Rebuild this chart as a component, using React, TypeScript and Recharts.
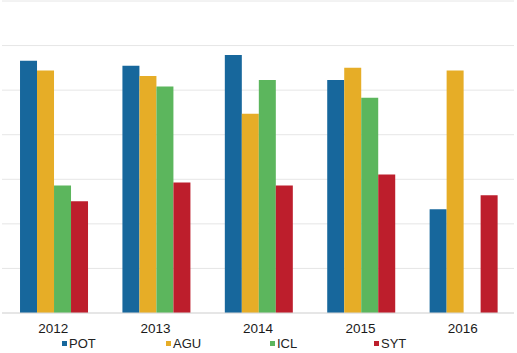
import { BarChart, Bar, XAxis, YAxis, CartesianGrid, Legend } from "recharts";

const years = ["2012", "2013", "2014", "2015", "2016"];
const pot = [5.66, 5.55, 5.79, 5.23, 2.33];
const agu = [5.44, 5.32, 4.47, 5.5, 5.44];
const icl = [2.86, 5.08, 5.23, 4.83, null];
const syt = [2.51, 2.93, 2.86, 3.11, 2.64];

const series = [
  { key: "POT", color: "#17679c" },
  { key: "AGU", color: "#e6ad27" },
  { key: "ICL", color: "#5cb65d" },
  { key: "SYT", color: "#bd1e2c" },
];

const data = years.map((y, i) => ({
  year: y,
  POT: pot[i],
  AGU: agu[i],
  ICL: icl[i],
  SYT: syt[i],
}));

function LegendBox() {
  return (
    <div style={{ position: "relative", height: 20, width: 517 }}>
      {series.map((s, i) => (
        <div
          key={s.key}
          style={{
            position: "absolute",
            left: 62 + i * 104,
            top: 3,
            display: "flex",
            alignItems: "center",
            fontSize: 13,
            color: "#222",
          }}
        >
          <span style={{ width: 5, height: 5, background: s.color, marginRight: 2, display: "inline-block" }} />
          {s.key}
        </div>
      ))}
    </div>
  );
}

export default function App() {
  return (
    <div style={{ position: "absolute", left: 0, top: 0, background: "white", fontFamily: "'Liberation Sans', Arial, sans-serif" }}>
      <BarChart
        width={517}
        height={353}
        data={data}
        margin={{ top: 1, right: 3, left: 2, bottom: 0 }}
        barCategoryGap="17.6%"
        barGap={0}
      >
        <CartesianGrid vertical={false} stroke="#e6e6e6" />
        <XAxis
          dataKey="year"
          height={20}
          tickLine={false}
          axisLine={{ stroke: "#d9d9d9" }}
          tickMargin={4}
          tick={{ fontSize: 13.5, fill: "#1a1a1a" }}
        />
        <YAxis hide domain={[0, 7]} ticks={[0, 1, 2, 3, 4, 5, 6, 7]} />
        <Legend verticalAlign="bottom" height={20} content={() => <LegendBox />} wrapperStyle={{ left: 0, width: 517 }} />
        {series.map((s) => (
          <Bar key={s.key} dataKey={s.key} fill={s.color} isAnimationActive={false} />
        ))}
      </BarChart>
    </div>
  );
}
